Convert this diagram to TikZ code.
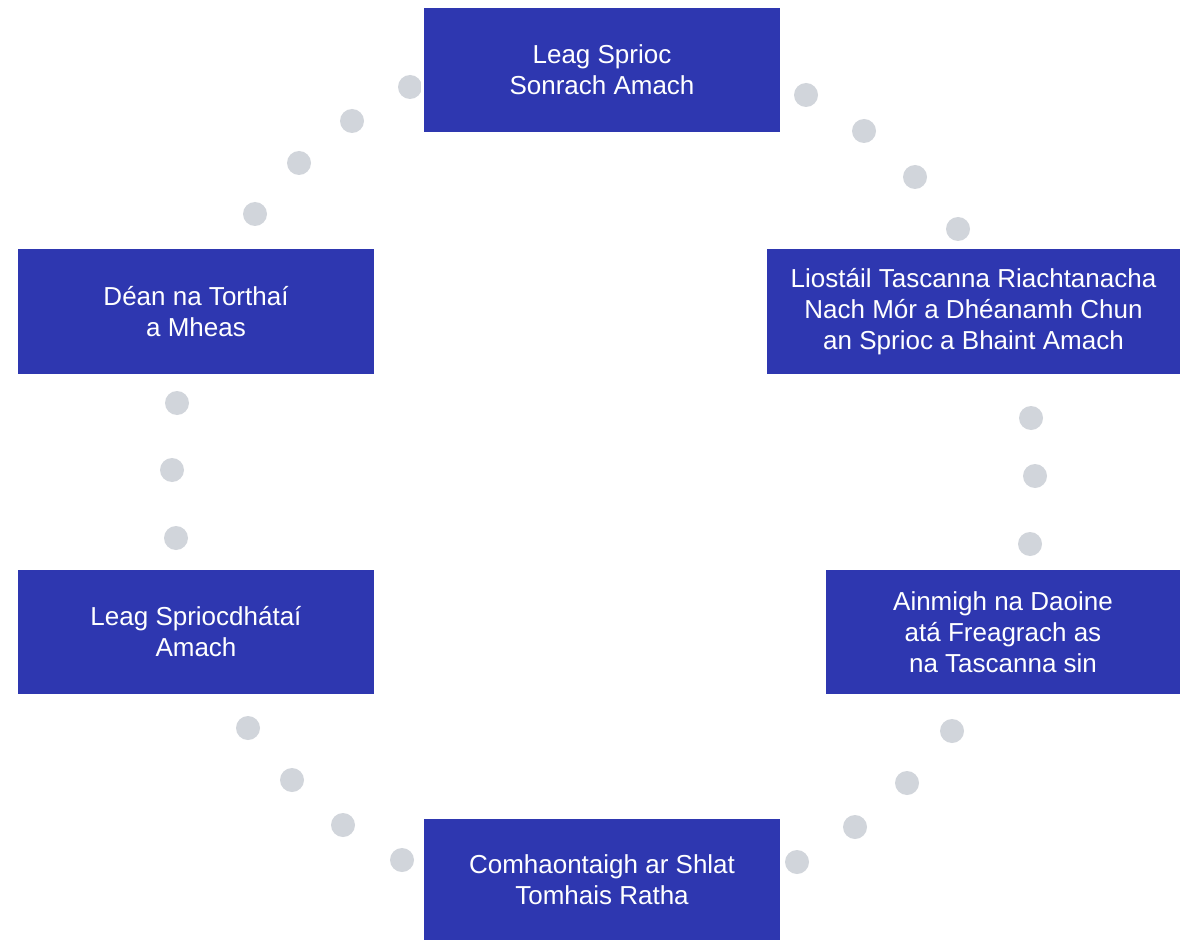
\documentclass[tikz,border=0pt]{standalone}
\usepackage{fontspec}
\setmainfont{Liberation Sans}
\definecolor{boxblue}{HTML}{2E37B0}
\definecolor{dotgray}{HTML}{D1D5DB}
\tikzset{
  stepbox/.style={fill=boxblue, draw=white, line width=3pt, text=white, align=center,
    font=\fontsize{26}{31}\selectfont, inner sep=0pt},
  dot/.style={circle, fill=dotgray, minimum size=24pt, inner sep=0pt}
}
\begin{document}
\begin{tikzpicture}[x=1pt,y=-1pt]
\useasboundingbox[fill=white] (0,0) rectangle (1180,941);
% dots
\foreach \n/\x/\y in {a1/410/87, a2/352/121, a3/299/163, a4/255/214,
  b1/806/95, b2/864/131, b3/915/177, b4/958/229,
  c1/1031/418, c2/1035/476, c3/1030/544,
  d1/952/731, d2/907/783, d3/855/827, d4/797/862,
  e1/248/728, e2/292/780, e3/343/825, e4/402/860,
  f1/177/403, f2/172/470, f3/176/538}
  \node[dot] (\n) at (\x,\y) {};
% boxes
\node[stepbox, minimum width=359pt, minimum height=127pt] (top) at (602,70) {Leag Sprioc\\Sonrach Amach};
\node[stepbox, minimum width=416pt, minimum height=128pt] (ru) at (973.5,311.5) {Liostáil Tascanna Riachtanacha\\Nach Mór a Dhéanamh Chun\\an Sprioc a Bhaint Amach};
\node[stepbox, minimum width=357pt, minimum height=127pt] (rl) at (1003,632) {Ainmigh na Daoine\\atá Freagrach as\\na Tascanna sin};
\node[stepbox, minimum width=359pt, minimum height=124pt] (bot) at (602,879.5) {Comhaontaigh ar Shlat\\Tomhais Ratha};
\node[stepbox, minimum width=359pt, minimum height=127pt] (ll) at (196,632) {Leag Spriocdhátaí\\Amach};
\node[stepbox, minimum width=359pt, minimum height=128pt] (lu) at (196,311.5) {Déan na Torthaí\\a Mheas};
\end{tikzpicture}
\end{document}
